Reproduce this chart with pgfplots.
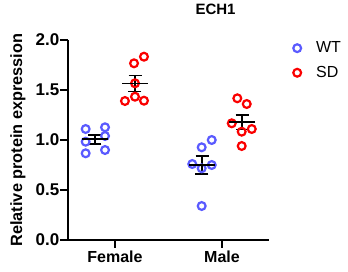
\documentclass[border=0pt]{standalone}
\usepackage{pgfplots}
\pgfplotsset{compat=1.18}
\usepackage{fontspec}
\setmainfont{Liberation Sans}
\definecolor{wtblue}{RGB}{90,90,255}
\definecolor{sdred}{RGB}{250,0,0}
\begin{document}
\begin{tikzpicture}[x=1pt,y=1pt]
\begin{axis}[
  at={(0,0)}, anchor=south west, scale only axis,
  width=201pt, height=200pt,
  xmin=0.561, xmax=2.439, ymin=0, ymax=2,
  axis x line*=bottom, axis y line*=left,
  axis line style={line width=1.6pt,-},
  xtick={1,2}, xticklabels={Female,Male},
  ytick={0,0.5,1,1.5,2},
  yticklabel style={/pgf/number format/fixed,/pgf/number format/fixed zerofill,/pgf/number format/precision=1},
  /pgf/number format/assume math mode=true,
  tick align=outside, major tick length=7.5pt,
  tick style={black,line width=1.6pt},
  tick label style={font=\bfseries\fontsize{17}{17}\selectfont},
  yticklabel style={inner xsep=1pt},
  xticklabel style={font=\bfseries\fontsize{16}{16}\selectfont, inner ysep=3pt},
  ylabel={Relative protein expression},
  ylabel style={at={(rel axis cs:-0.249,0.5)}, anchor=center, font=\bfseries\fontsize{16.3}{16.3}\selectfont},
  title={ECH1},
  title style={at={(rel axis cs:0.734,1.1235)}, anchor=center, font=\bfseries\fontsize{15}{15}\selectfont},
  legend style={draw=none, fill=none, at={(rel axis cs:1.105,0.8975)}, anchor=west,
    font=\fontsize{16}{16}\selectfont, row sep=8pt,
    /tikz/every odd column/.append style={column sep=13pt}},
  legend cell align=left,
  clip=false,
]
\addplot[only marks, mark=o, mark size=3.9pt, wtblue, mark options={line width=2.2pt}] coordinates {
 (0.726,1.110) (0.907,1.127) (0.726,0.983) (0.907,1.040) (0.726,0.867) (0.907,0.900)
 (1.904,1.000) (1.810,0.927) (1.722,0.760) (1.904,0.750) (1.810,0.717) (1.810,0.340)
};
\addlegendentry{WT}
\addplot[only marks, mark=o, mark size=3.9pt, sdred, mark options={line width=2.2pt}] coordinates {
 (1.178,1.767) (1.271,1.833) (1.093,1.390) (1.187,1.433) (1.271,1.393) (1.187,1.567)
 (2.143,1.417) (2.231,1.360) (2.091,1.167) (2.184,1.083) (2.278,1.110) (2.184,0.940)
};
\addlegendentry{SD}
\addplot[only marks, black, mark=-, mark size=13pt, mark options={line width=1.8pt},
  error bars/.cd, y dir=both, y explicit,
  error bar style={line width=1.8pt},
  error mark options={rotate=90, mark size=6.5pt, line width=1.8pt}]
  coordinates {
 (0.813,1.007) +- (0,0.045)
 (1.187,1.565) +- (0,0.080)
 (1.813,0.750) +- (0,0.090)
 (2.187,1.178) +- (0,0.072)
};
\end{axis}
\useasboundingbox (-68,-31) rectangle (280,240);
\end{tikzpicture}
\end{document}
